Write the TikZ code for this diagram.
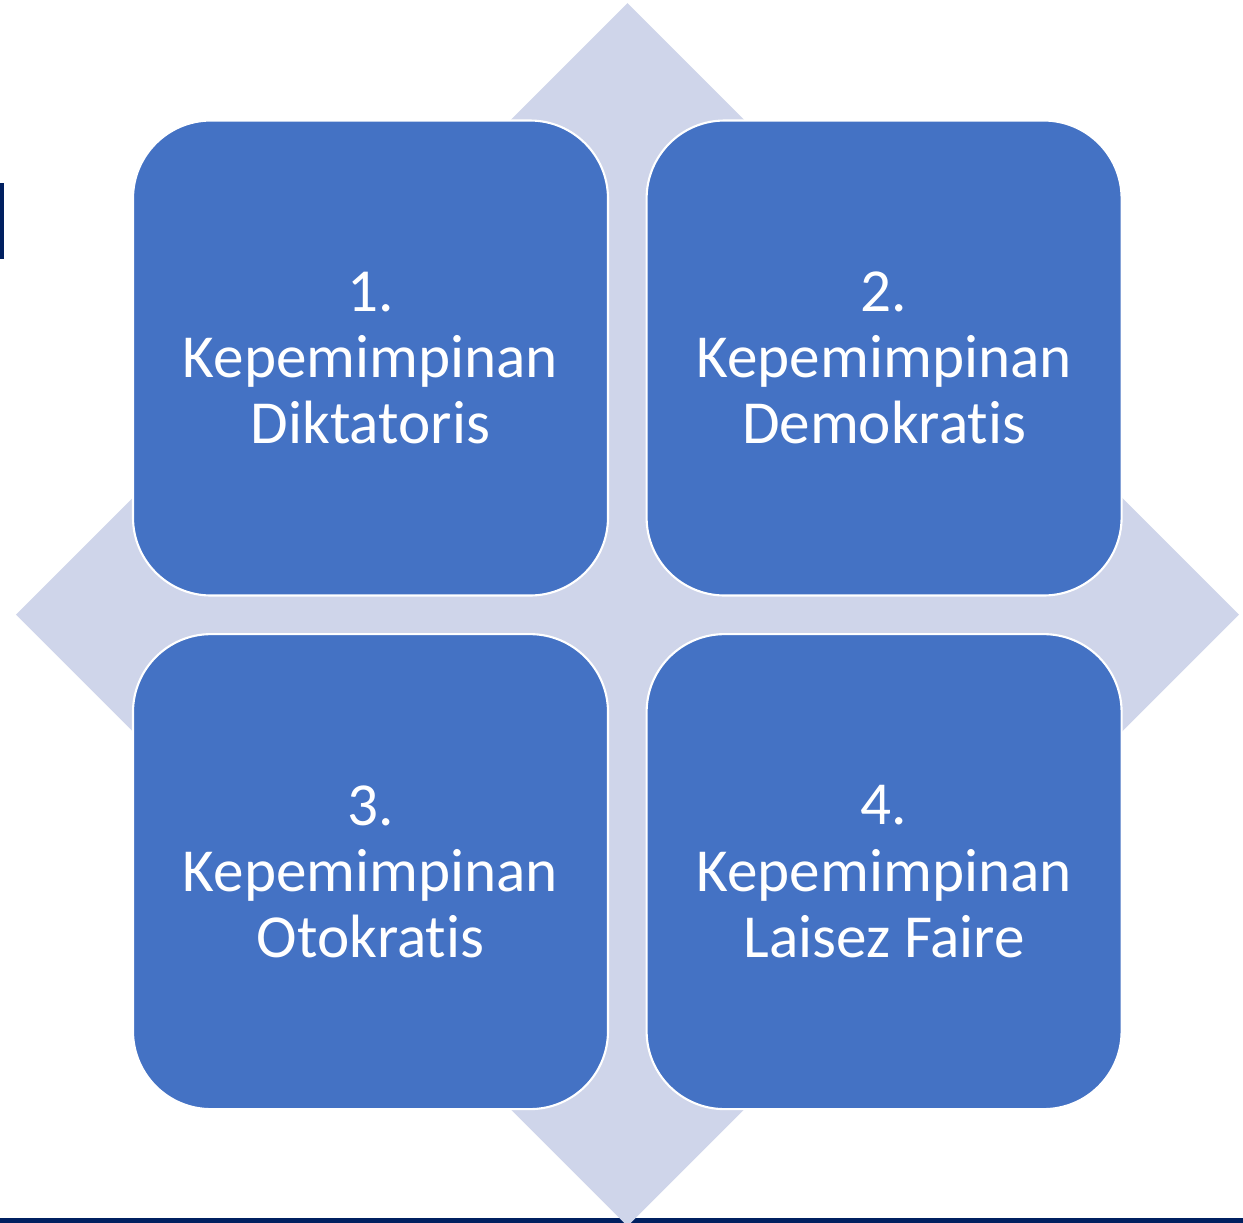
\documentclass[tikz,border=0pt]{standalone}
\usepackage{fontspec}
\setmainfont{Carlito}[Ligatures=NoCommon]
\usetikzlibrary{positioning}
\definecolor{matrixblue}{HTML}{4472C4}
\definecolor{matrixback}{HTML}{CFD5EA}
\definecolor{matrixnavy}{HTML}{002060}
\tikzset{quadbox/.style={rectangle, rounded corners=0.78cm, fill=matrixblue, draw=white, line width=0.6pt,
    minimum width=4.75cm, minimum height=4.75cm, inner sep=0pt, text=white, align=center,
    font=\fontsize{17.4}{18.8}\selectfont}}
\begin{document}
\begin{tikzpicture}
        \newcommand{\figmatrixgap}{0.365cm}
        \newcommand{\figmatrixcx}{6.275}
        \newcommand{\figmatrixcy}{-6.145}
        \newcommand{\figmatrixhalf}{6.115}
        \clip (0,0) rectangle (12.43,-12.23);
        \fill[matrixnavy] (0,-12.18) rectangle (12.43,-12.23);
        \fill[matrixnavy] (0,-1.83) rectangle (0.04,-2.59);
        \fill[matrixback] (\figmatrixcx,\figmatrixcy+\figmatrixhalf) -- (\figmatrixcx+\figmatrixhalf,\figmatrixcy)
            -- (\figmatrixcx,\figmatrixcy-\figmatrixhalf) -- (\figmatrixcx-\figmatrixhalf,\figmatrixcy) -- cycle;
        \node[quadbox] (dikt) at (3.705,-3.58) {1.\\Kepemimpinan\\Diktatoris};
        \node[quadbox, right=\figmatrixgap of dikt] (demo) {2.\\Kepemimpinan\\Demokratis};
        \node[quadbox, below=\figmatrixgap of dikt] (otok) {3.\\Kepemimpinan\\Otokratis};
        \node[quadbox, below=\figmatrixgap of demo] (laisez) {4.\\Kepemimpinan\\Laisez Faire};
    \end{tikzpicture}
\end{document}
